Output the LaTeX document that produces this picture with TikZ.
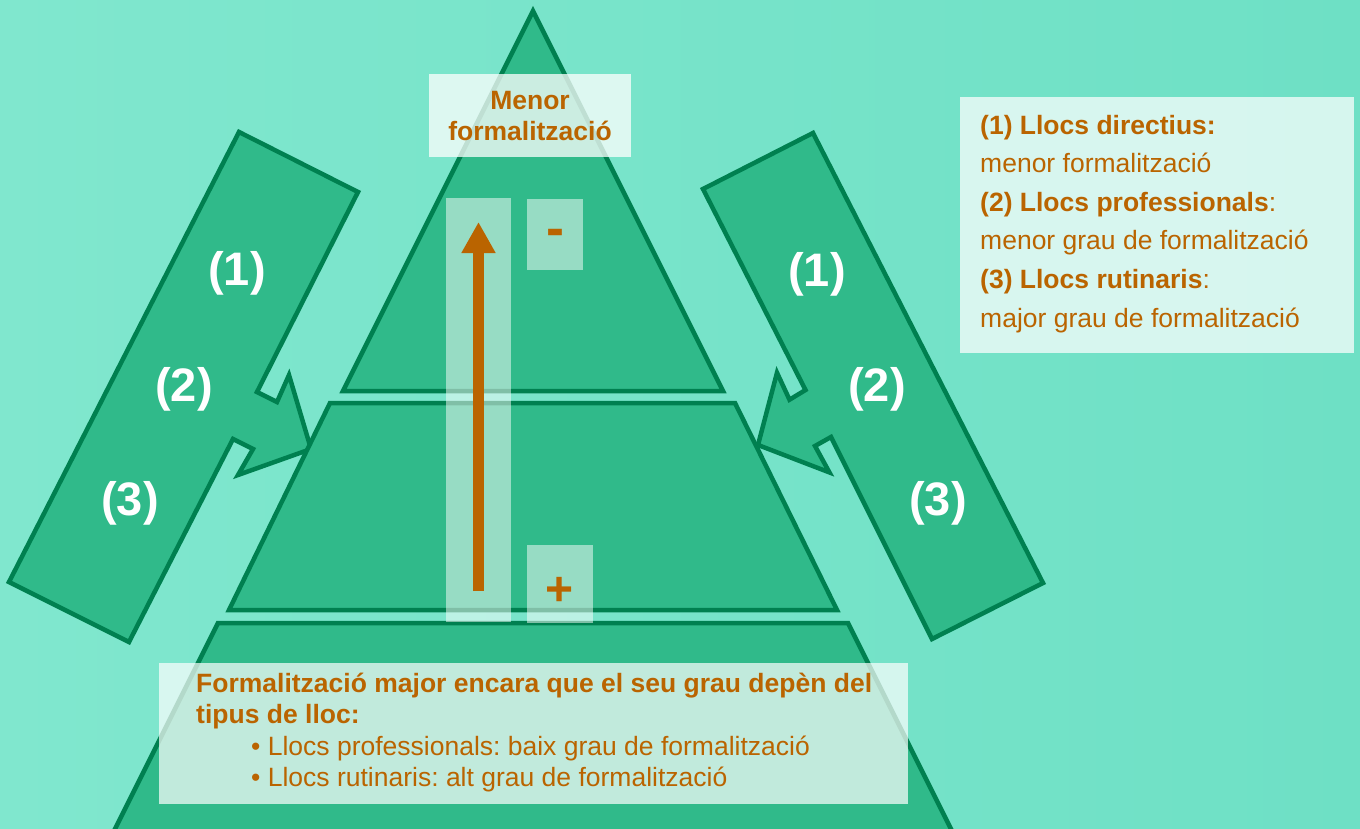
\documentclass[tikz,border=0pt]{standalone}
\usepackage{fontspec}
\setmainfont{Liberation Sans}
\usetikzlibrary{arrows.meta}
\frenchspacing
\definecolor{bgA}{RGB}{128,231,206}
\definecolor{bgB}{RGB}{110,224,197}
\definecolor{shapefill}{RGB}{48,186,138}
\definecolor{shapeline}{RGB}{0,128,80}
\definecolor{ocre}{RGB}{186,100,0}
\tikzset{
  piece/.style={fill=shapefill, draw=shapeline, line width=4.5pt, line join=miter},
  glass/.style={fill=white, fill opacity=#1, draw=none, inner sep=0pt, outer sep=0pt, anchor=north west},
  glass/.default=0.7,
  txt/.style={text=ocre, font=\fontsize{26.5}{31}\selectfont\frenchspacing, inner sep=0pt},
  num/.style={text=white, font=\fontsize{47}{52}\selectfont\bfseries, inner sep=0pt},
  sign/.style={text=ocre, inner sep=0pt, anchor=base},
  uparrow/.style={draw=ocre, line width=11pt, -{Triangle[width=32pt,length=31pt]}}
}
\begin{document}
\begin{tikzpicture}[x=1pt,y=-1pt]
\useasboundingbox (0,0) rectangle (1360,829);
\shade[left color=bgA, right color=bgB] (0,0) rectangle (1360,829);
\begin{scope}
\clip (0,0) rectangle (1360,829);
% left band arrow
\draw[piece] (239,132) -- (358,192) -- (257,392) -- (277,402) -- (289,375) -- (311,449)
  -- (238,475) -- (253,449) -- (233,439) -- (129,642) -- (9,582) -- cycle;
% right band arrow
\draw[piece] (813,133) -- (703,189) -- (805.5,390) -- (789.5,399.7) -- (777,372.7) -- (758,445)
  -- (829.4,472.4) -- (815,446) -- (831,437) -- (932,639) -- (1043,583) -- cycle;
% pyramid
\draw[piece] (533,11) -- (723,391) -- (343,391) -- cycle;
\draw[piece] (330,403) -- (735,403) -- (837,610) -- (229,610) -- cycle;
\draw[piece] (218,623) -- (848,623) -- (956.5,840) -- (109.5,840) -- cycle;
\end{scope}
% translucent boxes
\node[glass=0.75, minimum width=202pt, minimum height=83pt] (topbox) at (429,74) {};
\node[glass=0.5, minimum width=65pt, minimum height=424pt] (strip) at (446,198) {};
\node[glass=0.5, minimum width=56pt, minimum height=71pt] (minusbox) at (527,199) {};
\node[glass=0.5, minimum width=66pt, minimum height=78pt] (plusbox) at (527,545) {};
\node[glass=0.72, minimum width=394pt, minimum height=256pt] (rightbox) at (960,97) {};
\node[glass=0.7, minimum width=749pt, minimum height=141pt] (bottombox) at (159,663) {};
% arrow in strip
\coordinate (abot) at (478.5,591);
\coordinate (atop) at (478.5,222);
\draw[uparrow] (abot) -- (atop);
% signs
\node[sign, font=\fontsize{54}{60}\selectfont\bfseries] (minus) at (555.5,246.5) {-};
\node[sign, font=\fontsize{48}{54}\selectfont\bfseries] (plus) at (560,605) {+};
% top text
\node[txt, anchor=base] (m1) at (530,110) {\bfseries Menor};
\node[txt, anchor=base] (m2) at (530,141) {\bfseries formalització};
% right legend
\node[txt, anchor=base west] (r1) at (980,135) {\bfseries (1) Llocs directius:};
\node[txt, anchor=base west] (r2) at (980,173) {menor formalització};
\node[txt, anchor=base west] (r3) at (980,212) {{\bfseries (2) Llocs professionals}:};
\node[txt, anchor=base west] (r4) at (980,250) {menor grau de formalització};
\node[txt, anchor=base west] (r5) at (980,288) {{\bfseries (3) Llocs rutinaris}:};
\node[txt, anchor=base west] (r6) at (980,327) {major grau de formalització};
% bottom text
\node[txt, anchor=base west] (b1) at (196,692) {\bfseries Formalització major encara que el seu grau depèn del};
\node[txt, anchor=base west] (b2) at (196,723) {\bfseries tipus de lloc:};
\node[txt, anchor=base west] (b3) at (251,755) {• Llocs professionals: baix grau de formalització};
\node[txt, anchor=base west] (b4) at (251,786) {• Llocs rutinaris: alt grau de formalització};
% numbers
\node[num] (l1) at (237,273) {(1)};
\node[num] (l2) at (184,389) {(2)};
\node[num] (l3) at (130,503) {(3)};
\node[num] (q1) at (817,274) {(1)};
\node[num] (q2) at (877,389) {(2)};
\node[num] (q3) at (938,503) {(3)};
\end{tikzpicture}
\end{document}
